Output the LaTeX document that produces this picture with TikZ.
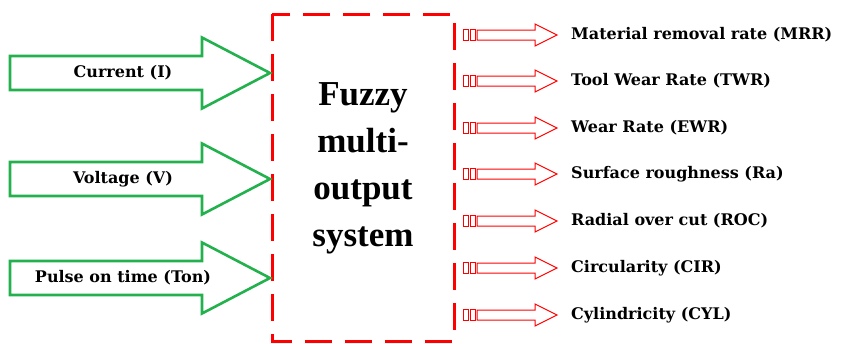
\documentclass[tikz,border=0pt]{standalone}
\usepackage{fontspec}
\setmainfont{DejaVu Serif}
\newfontfamily\titlefont{Liberation Serif}
\usetikzlibrary{positioning}

\definecolor{ingreen}{RGB}{34,177,76}
\definecolor{outred}{RGB}{255,0,0}

\tikzset{
  inarrow/.style={draw=ingreen, line width=2.6pt, line join=miter},
  outarrow/.style={draw=outred, line width=1pt, line join=miter},
  inlabel/.style={font=\bfseries\fontsize{16}{19}\selectfont, inner sep=0pt},
  outlabel/.style={font=\bfseries\fontsize{16}{19}\selectfont, inner sep=0pt, anchor=west},
  sysbox/.style={draw=outred, line width=3pt, dash pattern=on 27pt off 13pt},
}

\begin{document}
\begin{tikzpicture}[x=1pt, y=-1pt]
    \useasboundingbox (0,0) rectangle (844,343);
    % Draw the dashed system box
    \draw[sysbox] (272,14) rectangle (454,341);
    \node[font=\titlefont\bfseries\fontsize{35}{47}\selectfont, align=center]
        (sys) at (363,168) {Fuzzy\\multi-\\output\\system};
    % Draw the three input arrows
    \foreach \name/\y/\txt in {cur/73/Current (I), volt/179/Voltage (V), pulse/278/Pulse on time (Ton)} {
        \draw[inarrow] (10,\y-17) -- (202,\y-17) -- (202,\y-35.5) -- (270,\y)
            -- (202,\y+35.5) -- (202,\y+17) -- (10,\y+17) -- cycle;
        \node[inlabel] (\name) at (123,\y) {\txt};
    }
    % Draw the seven output arrows
    \foreach \name/\y/\txt in {mrr/35/Material removal rate (MRR), twr/81/Tool Wear Rate (TWR),
        ewr/128/Wear Rate (EWR), ra/174/Surface roughness (Ra), roc/221/Radial over cut (ROC),
        cir/268/Circularity (CIR), cyl/315/Cylindricity (CYL)} {
        \draw[outarrow, line width=0.8pt] (463,\y-5.5) rectangle (468,\y+5.5);
        \draw[outarrow, line width=0.8pt] (470,\y-5.5) rectangle (475,\y+5.5);
        \draw[outarrow] (477,\y-5) -- (535,\y-5) -- (535,\y-11) -- (557,\y)
            -- (535,\y+11) -- (535,\y+5) -- (477,\y+5) -- cycle;
        \node[outlabel] (\name) at (571,\y) {\txt};
    }
\end{tikzpicture}
\end{document}
